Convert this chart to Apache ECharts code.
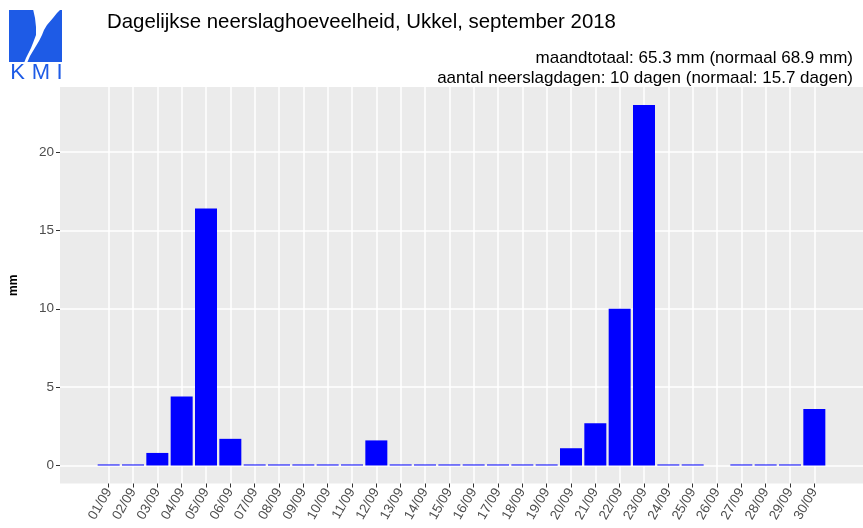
<!DOCTYPE html>
<html>
<head>
<meta charset="utf-8">
<script src="https://cdn.jsdelivr.net/npm/echarts@6/dist/echarts.min.js"></script>
<style>
  html, body { margin: 0; padding: 0; background: #fff; }
  #chart { width: 863px; height: 528px; }
</style>
</head>
<body>
<div id="chart"></div>
<script>
// daily precipitation Ukkel, september 2018 (mm); null = no measurement
var days = ['01/09','02/09','03/09','04/09','05/09','06/09','07/09','08/09','09/09','10/09',
            '11/09','12/09','13/09','14/09','15/09','16/09','17/09','18/09','19/09','20/09',
            '21/09','22/09','23/09','24/09','25/09','26/09','27/09','28/09','29/09','30/09'];
var rain = [0, 0, 0.8, 4.4, 16.4, 1.7, 0, 0, 0, 0,
            0, 1.6, 0, 0, 0, 0, 0, 0, 0, 1.1,
            2.7, 10.0, 23.0, 0, 0, null, 0, 0, 0, 3.6];
var yTicks = [0, 5, 10, 15, 20];
var dayPos = days.map(function (d, i) { return i + 1; });

var title = 'Dagelijkse neerslaghoeveelheid, Ukkel, september 2018';
var subLines = ['maandtotaal: 65.3 mm (normaal 68.9 mm)',
                'aantal neerslagdagen: 10 dagen (normaal: 15.7 dagen)'];

var font = '"Liberation Sans", Arial, Helvetica, sans-serif';
var logoBlue = '#1E5BE6';
var chart = echarts.init(document.getElementById('chart'));

var barData = [];
for (var i = 0; i < days.length; i++) {
    barData.push([i + 1, rain[i]]);
}

// white S-shaped gap of the logo
var logoGap = [[33,9],[61,9],[57,13],[53,18],[47,25],[44,30],[42,35],[39,41],[36,46],[33,51],[30,56],[27,63],
               [24,63],[26,58],[28,54],[31,48],[33,43],[36,35],[36,27],[35,18]];

var option = {
    backgroundColor: '#ffffff',
    animation: false,
    textStyle: { fontFamily: font },
    grid: {
        left: 60, right: 0, top: 87, bottom: 44.5,
        outerBoundsMode: 'none',
        containLabel: false,
        show: true, backgroundColor: '#EBEBEB', borderWidth: 0
    },
    graphic: [
        { type: 'rect', shape: { x: 9, y: 10, width: 53, height: 52 }, style: { fill: logoBlue } },
        { type: 'polygon', shape: { points: logoGap }, style: { fill: '#ffffff' } },
        { type: 'text', style: { text: 'K', x: 17.5, y: 72.5, align: 'center', verticalAlign: 'middle',
          font: '22px ' + font, fill: logoBlue } },
        { type: 'text', style: { text: 'M', x: 41, y: 72.5, align: 'center', verticalAlign: 'middle',
          font: '22px ' + font, fill: logoBlue } },
        { type: 'text', style: { text: 'I', x: 59.5, y: 72.5, align: 'center', verticalAlign: 'middle',
          font: '22px ' + font, fill: logoBlue } },
        { type: 'text', style: { text: title, x: 107, y: 22, verticalAlign: 'middle',
          font: '20.4px ' + font, fill: '#000' } },
        { type: 'text', style: { text: subLines[0], x: 853, y: 58, align: 'right', verticalAlign: 'middle',
          font: '17px ' + font, fill: '#000' } },
        { type: 'text', style: { text: subLines[1], x: 853, y: 78, align: 'right', verticalAlign: 'middle',
          font: '17px ' + font, fill: '#000' } }
    ],
    xAxis: {
        type: 'value',
        min: -1,
        max: 32,
        axisLine: { show: false, onZero: false },
        axisTick: { show: true, length: 4, customValues: dayPos, lineStyle: { color: '#333333' } },
        axisLabel: {
            customValues: dayPos,
            rotate: 60,
            margin: 6,
            fontSize: 13.5,
            color: '#4D4D4D',
            formatter: function (v) { return days[Math.round(v) - 1] || ''; }
        },
        splitLine: { show: true, lineStyle: { color: '#ffffff', width: 1.5 } }
    },
    yAxis: {
        type: 'value',
        min: -1.15,
        max: 24.15,
        name: 'mm',
        nameLocation: 'middle',
        nameGap: 40,
        nameTextStyle: { fontWeight: 'bold', fontSize: 12, color: '#000' },
        axisLine: { show: false, onZero: false },
        axisTick: { show: true, length: 4, customValues: yTicks, lineStyle: { color: '#333333' } },
        axisLabel: { customValues: yTicks, fontSize: 13.5, color: '#4D4D4D', margin: 6 },
        splitLine: { show: true, lineStyle: { color: '#ffffff', width: 1.5 } }
    },
    series: [{
        type: 'bar',
        data: barData,
        barWidth: 22,
        barMinHeight: 1,
        itemStyle: { color: '#0000FF' }
    }]
};
chart.setOption(option);
</script>
</body>
</html>
